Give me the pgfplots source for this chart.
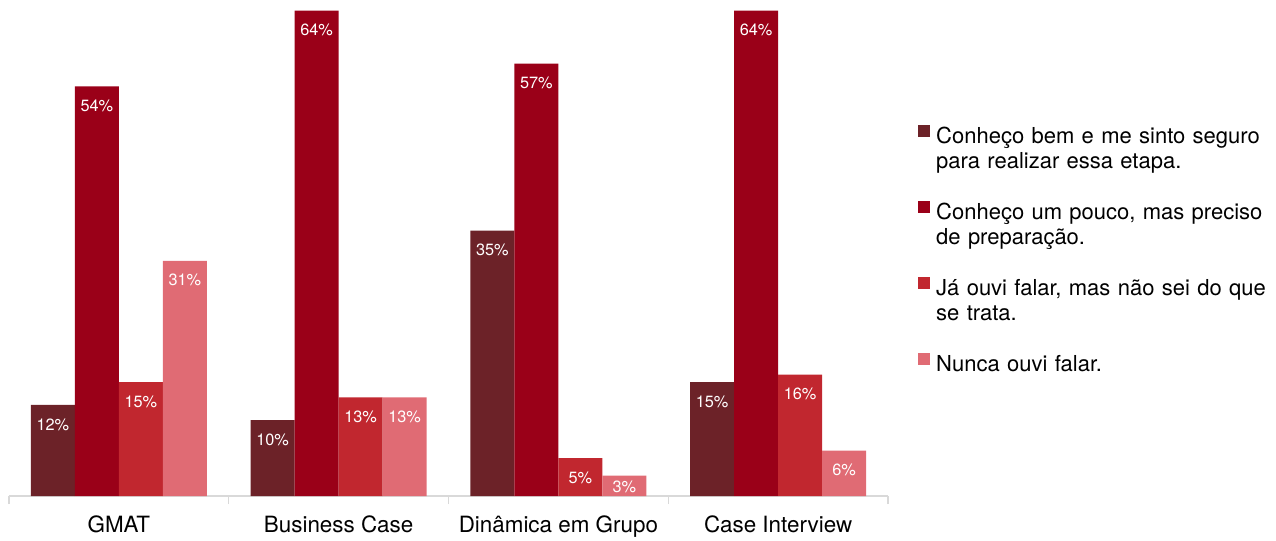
\documentclass[border=0pt]{standalone}
\usepackage{pgfplots}
\pgfplotsset{compat=1.18}
\usepackage{fontspec}
\setmainfont{TeX Gyre Heros}
\definecolor{cA}{HTML}{6C2228}
\definecolor{cB}{HTML}{9A0018}
\definecolor{cC}{HTML}{C1272F}
\definecolor{cD}{HTML}{E06B74}
\definecolor{axgray}{HTML}{D9D9D9}
\begin{document}
\begin{tikzpicture}
\begin{axis}[
  name=ax,
  scale only axis, width=879pt, height=496pt,
  xmin=0, xmax=4, ymin=0, ymax=65.4,
  ybar=0pt, bar width=44pt,
  axis y line=none,
  axis x line*=bottom,
  x axis line style={axgray, line width=1.2pt, -},
  xtick={0,1,2,3,4}, xticklabels={},
  major tick length=8pt, tick align=outside,
  tick style={axgray, line width=1.2pt},
  extra x ticks={0.5,1.5,2.5,3.5},
  extra x tick labels={GMAT,Business Case,Dinâmica em Grupo,Case Interview},
  extra x tick style={major tick length=0pt, tick label style={yshift=-16pt}},
  tick label style={font=\fontsize{22.4}{26}\selectfont, black},
  point meta=explicit,
  visualization depends on={rawy \as \rawy},
  nodes near coords={\pgfmathprintnumber[assume math mode=true]{\pgfplotspointmeta}\%},
  every node near coord/.append style={anchor=north, white, font=\fontsize{16.3}{19}\selectfont,
     yshift={(\rawy<4)?-2pt:-10pt}},
  legend cell align=left,
  legend image code/.code={\fill[#1,draw=none] (0pt,-1pt) rectangle (12pt,11pt);},
  legend style={draw=none, at={(1,1)}, anchor=north west, xshift=30pt, yshift=-125pt,
    inner sep=0pt, row sep=56pt, column sep=6pt,
    font=\fontsize{22}{25}\selectfont,
    nodes={align=left, text width=338pt, inner sep=0pt}},
]
\addplot[fill=cA, draw=none] coordinates {(0.5,12)[12] (1.5,10)[10] (2.5,35)[35] (3.5,15)[15]};
\addlegendentry{Conheço bem e me sinto seguro\\para realizar essa etapa.}
\addplot[fill=cB, draw=none] coordinates {(0.5,54)[54] (1.5,64)[64] (2.5,57)[57] (3.5,64)[64]};
\addlegendentry{Conheço um pouco, mas preciso\\de preparação.}
\addplot[fill=cC, draw=none] coordinates {(0.5,15)[15] (1.5,13)[13] (2.5,5)[5] (3.5,16)[16]};
\addlegendentry{Já ouvi falar, mas não sei do que\\se trata.}
\addplot[fill=cD, draw=none] coordinates {(0.5,31)[31] (1.5,13)[13] (2.5,2.7)[3] (3.5,6)[6]};
\addlegendentry{Nunca ouvi falar.}
\end{axis}
\path[use as bounding box] ([shift={(-9pt,-39pt)}]ax.south west) rectangle ([shift={(1267pt,0pt)}]ax.north west);
\end{tikzpicture}
\end{document}
